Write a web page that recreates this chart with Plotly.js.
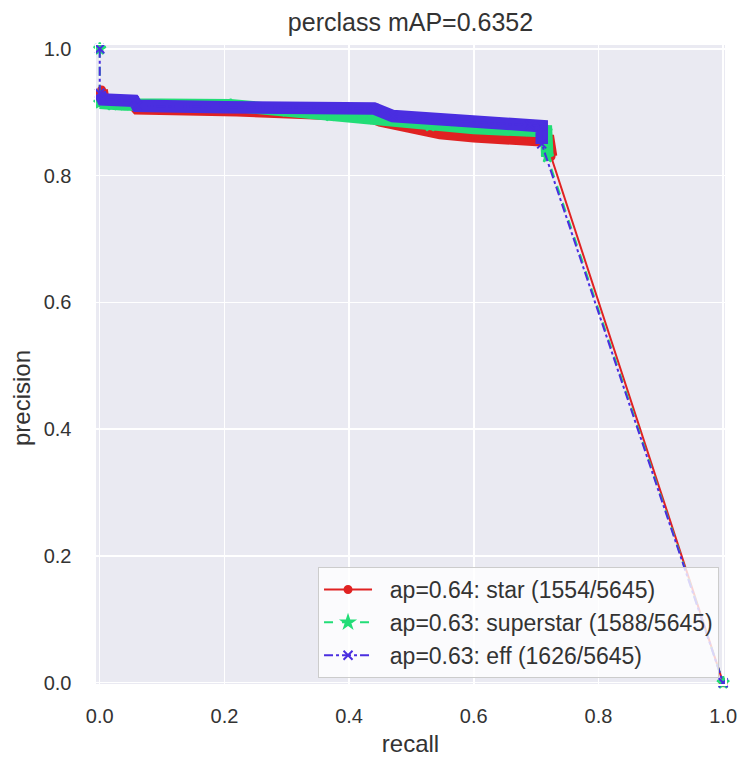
<!DOCTYPE html>
<html>
<head>
<meta charset="utf-8">
<script src="https://cdn.plot.ly/plotly-3.0.1.min.js"></script>
<style>html,body{margin:0;padding:0;background:#fff;}#chart{width:740px;height:760px;}</style>
</head>
<body>
<div id="chart"></div>
<script>
// Series: star
const starRecall    = [0.003, 0.006, 0.05, 0.06, 0.22, 0.36, 0.43, 0.45, 0.50, 0.546, 0.60, 0.69, 0.72, 0.724, 1.0];
const starPrecision = [0.935, 0.918, 0.917, 0.906, 0.903, 0.897, 0.895, 0.887, 0.877, 0.867, 0.862, 0.857, 0.855, 0.83, 0.0];
// Series: superstar
const superRecall    = [0.0, 0.0, 0.02, 0.04, 0.21, 0.30, 0.37, 0.42, 0.44, 0.53, 0.60, 0.69, 0.716, 0.718, 1.0];
const superPrecision = [1.0, 0.915, 0.912, 0.912, 0.911, 0.902, 0.895, 0.894, 0.89, 0.879, 0.875, 0.871, 0.870, 0.83, 0.0];
// Series: eff
const effRecall    = [0.0, 0.0, 0.005, 0.055, 0.06, 0.20, 0.44, 0.47, 0.57, 0.69, 0.709, 0.709, 1.0];
const effPrecision = [1.0, 0.93, 0.92, 0.918, 0.91, 0.908, 0.906, 0.894, 0.886, 0.88, 0.878, 0.85, 0.0];

const legendLabels = ["ap=0.64: star (1554/5645)", "ap=0.63: superstar (1588/5645)", "ap=0.63: eff (1626/5645)"];
const titleText = "perclass mAP=0.6352";
const xTitle = "recall";
const yTitle = "precision";
const tickVals = [0, 0.2, 0.4, 0.6, 0.8, 1.0];
const tickText = ["0.0", "0.2", "0.4", "0.6", "0.8", "1.0"];

const colors = ["#e02222", "#22dd77", "#4a2ee0"];
const series = [
  {x: starRecall, y: starPrecision, name: legendLabels[0], color: colors[0], dash: "solid", symbol: "circle", size: 7},
  {x: superRecall, y: superPrecision, name: legendLabels[1], color: colors[1], dash: "dash", symbol: "star", size: 9},
  {x: effRecall, y: effPrecision, name: legendLabels[2], color: colors[2], dash: "dashdot", symbol: "x-thin-open", size: 9}
];

const NB = "\u00a0\u00a0";
const traces = [];
series.forEach((s, i) => {
  const n = s.x.length - 1;
  const bx = s.x.slice(0, n).filter((v, k) => !(i > 0 && k === 0));
  const by = s.y.slice(0, n).filter((v, k) => !(i > 0 && k === 0));
  traces.push({
    x: bx, y: by, type: "scatter", mode: "lines",
    line: {color: s.color, width: 12.5},
    showlegend: false, hoverinfo: "skip", legendgroup: "g" + i, cliponaxis: false
  });
  traces.push({
    x: s.x, y: s.y, type: "scatter", mode: "lines+markers",
    name: NB + s.name, legendgroup: "g" + i, cliponaxis: false,
    line: {color: s.color, width: 2, dash: s.dash},
    marker: {symbol: s.symbol, size: s.size, color: s.color, line: {color: s.color, width: 2}}
  });
});

const FONT = "Liberation Sans, Arial, sans-serif";
const axisCommon = {
  showgrid: true, gridcolor: "#ffffff", gridwidth: 1.5,
  zeroline: false, showline: true, linecolor: "#ffffff", linewidth: 1.5, mirror: true,
  ticks: "", tickvals: tickVals, ticktext: tickText,
  tickfont: {family: FONT, size: 20, color: "#333333"}
};

const layout = {
  width: 740, height: 760,
  margin: {l: 96, r: 15, t: 45, b: 76},
  paper_bgcolor: "#ffffff", plot_bgcolor: "#EAEAF2",
  font: {family: FONT, color: "#333333"},
  title: {text: titleText, xref: "paper", x: 0.5, xanchor: "center", y: 0.971, yanchor: "middle",
          font: {family: FONT, size: 25, color: "#333333"}},
  xaxis: Object.assign({}, axisCommon, {
    range: [-0.006, 1.003], ticklabelstandoff: 13,
    title: {text: xTitle, font: {family: FONT, size: 24, color: "#333333"}, standoff: 9}
  }),
  yaxis: Object.assign({}, axisCommon, {
    range: [-0.002, 1.006], ticklabelstandoff: 19
  }),
  annotations: [{
    text: yTitle, xref: "paper", yref: "paper", x: -0.1176, y: 0.4476,
    xanchor: "center", yanchor: "middle", textangle: -90, showarrow: false,
    font: {family: FONT, size: 24, color: "#333333"}
  }],
  legend: {
    x: 0.9905, xanchor: "right", y: 0.0094, yanchor: "bottom",
    bgcolor: "rgba(255,255,255,0.8)", bordercolor: "#cccccc", borderwidth: 1,
    font: {family: FONT, size: 23, color: "#333333"}, tracegroupgap: 0, itemwidth: 48
  },
  showlegend: true
};

Plotly.newPlot("chart", traces, layout, {displayModeBar: false, staticPlot: true});
</script>
</body>
</html>
